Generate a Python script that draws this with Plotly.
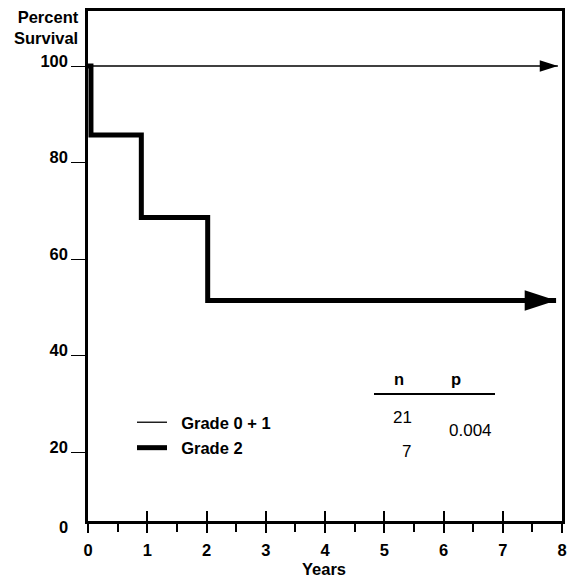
import plotly.graph_objects as go

# ---------------- data ----------------
grade01_name = "Grade 0 + 1"
grade01_time = [0.0, 7.93]
grade01_surv = [100, 100]

grade2_name = "Grade 2"
grade2_event_time = [0.05, 0.9, 2.02]
grade2_surv_after = [85.7, 68.6, 51.4]
grade2_end_time = 7.9

x_tickvals = [0, 1, 2, 3, 4, 5, 6, 7, 8]
x_ticktext = ["0", "1", "2", "3", "4", "5", "6", "7", "8"]
y_tickvals = [20, 40, 60, 80, 100]
y_ticktext = ["20", "40", "60", "80", "100"]

table_header = ["n", "p"]
table_n = [21, 7]
table_p = "0.004"

# ---------------- figure ----------------
FONT = "Liberation Sans, Arial, Helvetica, sans-serif"
W, H = 568, 580
# plot-area edges in pixels
Ls, Rs, Ts, Bs = 88, 562, 11, 521


def px(xs):
    return (xs - Ls) / (Rs - Ls)


def py(ys):
    return (Bs - ys) / (Bs - Ts)


g2_x = [0.0] + grade2_event_time + [grade2_end_time]
g2_y = [100] + grade2_surv_after + [grade2_surv_after[-1]]

NB = "\u00a0\u00a0"

fig = go.Figure()

fig.add_trace(go.Scatter(
    x=grade01_time, y=grade01_surv, mode="lines", name=NB + grade01_name,
    line=dict(color="black", width=1.3, backoff=6),
    legendgroup="a", hoverinfo="skip"))
fig.add_trace(go.Scatter(
    x=g2_x, y=g2_y, mode="lines", name=NB + grade2_name,
    line=dict(color="black", width=5, shape="hv", backoff=16),
    legendgroup="b", hoverinfo="skip"))

# arrowheads at the end of follow-up
fig.add_trace(go.Scatter(
    x=[grade01_time[-1]], y=[grade01_surv[-1]], mode="markers", showlegend=False,
    marker=dict(symbol="arrow", angle=90, size=19, color="black"), hoverinfo="skip"))
fig.add_trace(go.Scatter(
    x=[grade2_end_time], y=[grade2_surv_after[-1]], mode="markers", showlegend=False,
    marker=dict(symbol="arrow", angle=90, size=33, color="black"), hoverinfo="skip"))

# invisible trace so the overlay axis (crossing ticks) is drawn
fig.add_trace(go.Scatter(x=[None], y=[None], xaxis="x2", showlegend=False, hoverinfo="skip"))

bold = dict(family=FONT, size=16.5, color="black", weight="bold")
reg = dict(family=FONT, size=17, color="black")

fig.update_layout(
    width=W, height=H,
    margin=dict(l=Ls, r=W - Rs, t=Ts, b=H - Bs, autoexpand=False),
    paper_bgcolor="white", plot_bgcolor="white",
    showlegend=True,
    legend=dict(x=px(132), y=py(405), xanchor="left", yanchor="top",
                font=bold, itemwidth=30, traceorder="grouped",
                tracegroupgap=1, bgcolor="rgba(0,0,0,0)"),
    xaxis=dict(range=[0, 8], tickvals=x_tickvals, ticktext=x_ticktext,
               ticks="outside", ticklen=9, tickwidth=2, tickcolor="black",
               showline=True, linewidth=2.5, linecolor="black", mirror=True,
               showgrid=False, zeroline=False, tickfont=bold,
               ticklabelstandoff=3,
               minor=dict(dtick=0.5, tick0=0, ticks="outside", ticklen=8,
                          tickwidth=1.5, tickcolor="black", showgrid=False)),
    xaxis2=dict(range=[0, 8], overlaying="x", anchor="y", side="bottom",
                tickvals=x_tickvals, ticks="inside", ticklen=10, tickwidth=2,
                tickcolor="black", showticklabels=False, showline=False,
                showgrid=False, zeroline=False),
    yaxis=dict(range=[5.7, 111.4], tickvals=y_tickvals, ticktext=y_ticktext,
               ticks="outside", ticklen=14, tickwidth=1.2, tickcolor="black",
               showline=True, linewidth=2.5, linecolor="black", mirror=True,
               showgrid=False, zeroline=False, tickfont=bold,
               ticklabelshift=-5, ticklabelstandoff=0),
)

ann = [
    dict(text="Percent<br>Survival", x=px(81), y=py(28), xanchor="right",
         yanchor="middle", align="right", font=bold),
    dict(text="0", x=px(70), y=py(527), xanchor="right", yanchor="middle", font=bold),
    dict(text="Years", x=px(324), y=py(580), xanchor="center", yanchor="bottom", font=bold),
    dict(text=table_header[0], x=px(399), y=py(379), xanchor="center", yanchor="middle", font=bold),
    dict(text=table_header[1], x=px(456), y=py(379), xanchor="center", yanchor="middle", font=bold),
    dict(text=str(table_n[0]), x=px(402), y=py(417), xanchor="center", yanchor="middle", font=reg),
    dict(text=str(table_n[1]), x=px(406), y=py(451), xanchor="center", yanchor="middle", font=reg),
    dict(text=table_p, x=px(470), y=py(430), xanchor="center", yanchor="middle", font=reg),
]
for a in ann:
    a.update(xref="paper", yref="paper", showarrow=False)
fig.update_layout(annotations=ann)

fig.add_shape(type="line", xref="paper", yref="paper",
              x0=px(374), x1=px(495), y0=py(394), y1=py(394),
              line=dict(color="black", width=1.8))

fig.write_html(
    "out.html",
    config={"displayModeBar": False},
    post_script="document.body.style.margin='0';"
                "document.documentElement.style.overflow='hidden';",
)
